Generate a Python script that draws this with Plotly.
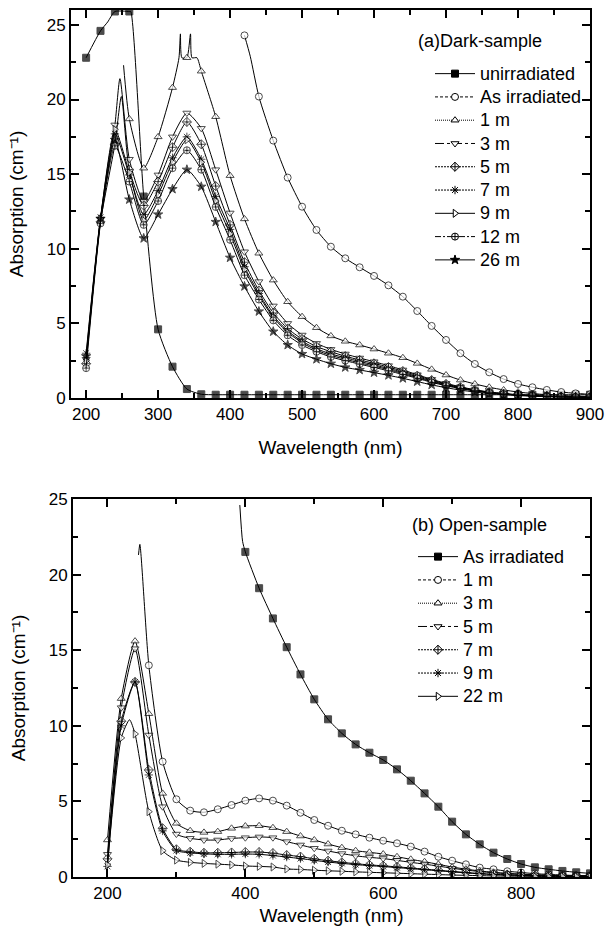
import plotly.graph_objects as go

# ---------------- data: (a) Dark-sample ----------------
wl_a = [200, 220, 240, 260, 280, 300, 320, 340, 360, 380, 400, 420, 440, 460, 480,
        500, 520, 540, 560, 580, 600, 620, 640, 660, 680, 700, 720, 740, 760, 780,
        800, 820, 840, 860, 880, 900]
N = None
a_unirr = [22.8, 24.6, 25.9, 25.9, 13.5, 4.6, 2.1, 0.6, 0.25, 0.22, 0.22, 0.22, 0.22, 0.22, 0.22,
           0.22, 0.22, 0.22, 0.22, 0.22, 0.22, 0.22, 0.22, 0.22, 0.22, 0.22, 0.22, 0.22, 0.22, 0.22,
           0.22, 0.22, 0.22, 0.22, 0.22, 0.22]
a_asirr = [N, N, N, N, N, N, N, N, N, N, N, 24.3, 20.2, 17.25, 14.77,
           12.82, 11.26, 10.14, 9.36, 8.76, 8.18, 7.55, 6.79, 5.83, 4.83, 3.89, 3.0, 2.28, 1.72, 1.27,
           0.94, 0.72, 0.54, 0.4, 0.31, 0.25]
a_1m = [N, N, N, 18.7, 15.4, 17.5, 20.8, 22.8, 21.9, 18.85, 14.9, 12.0, 9.7, 7.9, 6.45,
        5.45, 4.71, 4.16, 3.8, 3.55, 3.28, 3.0, 2.7, 2.32, 1.92, 1.54, 1.2, 0.94, 0.72, 0.54,
        0.4, 0.3, 0.22, 0.17, 0.13, 0.1]
a_3m = [2.6, 12.0, 18.3, 16.0, 13.2, 14.95, 17.5, 19.1, 18.07, 15.3, 12.4, 9.8, 7.8, 6.17, 5.0,
        4.22, 3.66, 3.26, 2.95, 2.68, 2.43, 2.17, 1.88, 1.56, 1.25, 0.98, 0.75, 0.55, 0.4, 0.3,
        0.22, 0.16, 0.12, 0.09, 0.07, 0.05]
a_5m = [2.3, 11.8, 17.0, 15.3, 12.9, 14.5, 16.8, 18.5, 17.0, 14.2, 11.6, 9.1, 7.2, 5.7, 4.65,
        3.95, 3.45, 3.1, 2.8, 2.55, 2.32, 2.07, 1.8, 1.5, 1.2, 0.94, 0.72, 0.53, 0.39, 0.29,
        0.21, 0.16, 0.12, 0.09, 0.07, 0.05]
a_7m = [3.0, 12.1, 17.7, 14.95, 12.3, 13.9, 16.1, 17.5, 16.0, 13.5, 11.3, 8.8, 7.0, 5.5, 4.5,
        3.8, 3.3, 2.95, 2.7, 2.45, 2.22, 1.98, 1.72, 1.43, 1.15, 0.9, 0.69, 0.51, 0.37, 0.28,
        0.2, 0.15, 0.11, 0.08, 0.06, 0.05]
a_9m = [2.5, 12.0, 18.0, 15.1, 11.9, 13.6, 15.8, 17.3, 15.8, 13.2, 11.0, 8.6, 6.85, 5.4, 4.4,
        3.7, 3.2, 2.85, 2.6, 2.35, 2.14, 1.9, 1.65, 1.37, 1.1, 0.86, 0.66, 0.49, 0.36, 0.27,
        0.2, 0.15, 0.11, 0.08, 0.06, 0.05]
a_12m = [2.0, 11.7, 16.9, 14.5, 11.6, 13.2, 15.4, 16.6, 15.3, 12.8, 10.6, 8.23, 6.6, 5.2, 4.2,
         3.55, 3.1, 2.75, 2.5, 2.27, 2.05, 1.82, 1.58, 1.32, 1.05, 0.82, 0.63, 0.47, 0.34, 0.26,
         0.19, 0.14, 0.1, 0.08, 0.06, 0.05]
a_26m = [2.8, 12.0, 17.3, 13.3, 10.7, 12.3, 14.0, 15.3, 14.16, 11.8, 9.4, 7.48, 5.8, 4.45, 3.55,
         2.95, 2.6, 2.3, 2.05, 1.88, 1.7, 1.52, 1.32, 1.1, 0.88, 0.69, 0.53, 0.4, 0.29, 0.22,
         0.16, 0.12, 0.09, 0.07, 0.05, 0.04]
# off-grid saturation / peak points (line only, no marker)
a_extra = {
    "unirradiated": ([230, 262], [25.2, 25.9]),
    "As irradiated": ([428], [22.9]),
    "1 m": ([252, 329, 331, 333, 345, 347, 354], [22.3, 22.8, 24.4, 22.8, 24.4, 22.8, 22.8]),
    "3 m": ([247], [21.4]),
    "5 m": ([249], [20.2]),
}
a_names = ["unirradiated", "As irradiated", "1 m", "3 m", "5 m", "7 m", "9 m", "12 m", "26 m"]
a_series = [a_unirr, a_asirr, a_1m, a_3m, a_5m, a_7m, a_9m, a_12m, a_26m]

# ---------------- data: (b) Open-sample ----------------
wl_b = wl_a
b_asirr = [N, N, N, N, N, N, N, N, N, N, 21.5, 19.1, 17.1, 15.2, 13.4,
           11.75, 10.43, 9.5, 8.77, 8.22, 7.74, 7.12, 6.37, 5.53, 4.65, 3.66, 2.82, 2.16, 1.61, 1.19,
           0.86, 0.64, 0.51, 0.4, 0.31, 0.24]
b_1m = [N, N, N, 14.0, 7.63, 5.14, 4.39, 4.28, 4.48, 4.76, 5.05, 5.2, 5.05, 4.72, 4.25,
        3.77, 3.39, 3.06, 2.82, 2.6, 2.4, 2.23, 2.01, 1.68, 1.34, 1.08, 0.84, 0.62, 0.51, 0.38,
        0.3, 0.22, 0.17, 0.13, 0.1, 0.08]
b_3m = [2.45, 11.8, 15.6, 10.8, 5.53, 3.55, 3.06, 2.95, 3.0, 3.22, 3.37, 3.39, 3.26, 3.0, 2.71,
        2.45, 2.18, 1.94, 1.74, 1.63, 1.52, 1.34, 1.17, 1.01, 0.84, 0.66, 0.52, 0.4, 0.31, 0.24,
        0.19, 0.15, 0.12, 0.1, 0.08, 0.07]
b_5m = [1.5, 11.2, 15.1, 9.39, 4.65, 2.84, 2.56, 2.45, 2.45, 2.55, 2.6, 2.65, 2.6, 2.34, 2.12,
        1.9, 1.72, 1.55, 1.4, 1.3, 1.22, 1.1, 0.97, 0.85, 0.72, 0.58, 0.46, 0.36, 0.28, 0.22,
        0.17, 0.13, 0.1, 0.08, 0.07, 0.06]
b_7m = [1.2, 10.3, 12.9, 7.08, 3.22, 1.83, 1.67, 1.6, 1.6, 1.62, 1.65, 1.65, 1.58, 1.45, 1.35,
        1.2, 1.08, 0.97, 0.88, 0.8, 0.74, 0.67, 0.6, 0.52, 0.45, 0.37, 0.3, 0.23, 0.18, 0.14,
        0.11, 0.09, 0.07, 0.06, 0.05, 0.04]
b_9m = [0.7, 10.0, 12.9, 6.75, 3.05, 1.75, 1.6, 1.53, 1.5, 1.5, 1.52, 1.5, 1.42, 1.32, 1.22,
        1.1, 0.99, 0.9, 0.82, 0.75, 0.69, 0.62, 0.55, 0.48, 0.41, 0.34, 0.27, 0.21, 0.16, 0.13,
        0.1, 0.08, 0.06, 0.05, 0.04, 0.04]
b_22m = [0.8, 9.2, 9.46, 4.32, 1.74, 1.12, 0.97, 0.9, 0.85, 0.8, 0.73, 0.7, 0.66, 0.53, 0.5,
         0.45, 0.41, 0.38, 0.34, 0.31, 0.28, 0.25, 0.22, 0.19, 0.16, 0.13, 0.11, 0.09, 0.07, 0.06,
         0.05, 0.04, 0.03, 0.03, 0.03, 0.03]
b_extra = {
    "As irradiated": ([392, 396], [24.6, 22.2]),
    "1 m": ([245, 247], [21.3, 22.0]),
    "22 m": ([232], [10.4]),
}
b_names = ["As irradiated", "1 m", "3 m", "5 m", "7 m", "9 m", "22 m"]
b_series = [b_asirr, b_1m, b_3m, b_5m, b_7m, b_9m, b_22m]

# ---------------- styles (symbol, fill, legend dash) ----------------
a_style = {
    "unirradiated": ("square", "black", "solid"),
    "As irradiated": ("circle", "white", "3px,2px"),
    "1 m": ("triangle-up", "white", "1px,1px"),
    "3 m": ("triangle-down", "white", "dashdot"),
    "5 m": ("diamond-cross", "white", "2px,1px"),
    "7 m": ("asterisk-open", "black", "2px,1px"),
    "9 m": ("triangle-right", "white", "solid"),
    "12 m": ("circle-cross", "white", "6px,2px,2px,2px"),
    "26 m": ("star", "black", "solid"),
}
b_style = {
    "As irradiated": ("square", "black", "solid"),
    "1 m": ("circle", "white", "3px,2px"),
    "3 m": ("triangle-up", "white", "1px,1px"),
    "5 m": ("triangle-down", "white", "dashdot"),
    "7 m": ("diamond-cross", "white", "2px,1px"),
    "9 m": ("asterisk-open", "black", "2px,1px"),
    "22 m": ("triangle-right", "white", "solid"),
}

FONT = "Liberation Sans, Arial, sans-serif"
fig = go.Figure()


def add_series(wl, vals, name, extra, style, xa, ya, legend):
    pts = [(w, v, True) for w, v in zip(wl, vals) if v is not None]
    if name in extra:
        pts += [(w, v, False) for w, v in zip(*extra[name])]
    pts.sort(key=lambda p: p[0])
    sym, fill, dash = style[name]
    mcolor = "black" if sym.endswith("open") else fill
    fig.add_trace(go.Scatter(
        x=[p[0] for p in pts], y=[p[1] for p in pts],
        name=name, showlegend=False,
        mode="lines+markers",
        line=dict(color="black", width=1, shape="spline", smoothing=0.6),
        marker=dict(symbol=sym, color=mcolor,
                    size=[7 if p[2] else 0 for p in pts],
                    line=dict(color="black", width=1)),
        xaxis=xa, yaxis=ya, cliponaxis=True,
    ))
    # legend entry (line style as in the legend of the reference)
    fig.add_trace(go.Scatter(
        x=[None], y=[None], name='<span style="font-size:18px">' + name + '</span>',
        mode="lines+markers",
        line=dict(color="black", width=1, dash=dash),
        marker=dict(symbol=sym, color=mcolor, size=7, line=dict(color="black", width=1)),
        xaxis=xa, yaxis=ya, legend=legend, showlegend=True,
    ))


for name, vals in zip(a_names, a_series):
    add_series(wl_a, vals, name, a_extra, a_style, "x", "y", "legend")
for name, vals in zip(b_names, b_series):
    add_series(wl_b, vals, name, b_extra, b_style, "x2", "y2", "legend2")

axis_common = dict(
    showline=True, linewidth=2, linecolor="black", mirror="allticks",
    ticks="inside", ticklen=8, tickwidth=2, tickcolor="black",
    showgrid=False, zeroline=False, automargin=False,
    tickfont=dict(family=FONT, size=17, color="black"),
    title_font=dict(family=FONT, size=19, color="black"),
)
minor_common = dict(ticks="inside", ticklen=5, tickwidth=1.5, tickcolor="black", showgrid=False)

L, R, T, B = 71, 18, 10, 51
PW, PH = 608 - L - R, 928 - T - B


def px_x(px):
    return (px - L) / PW


def px_y(py):
    return (928 - B - py) / PH


YTITLE = "Absorption (cm\u207b\u00b9)"

fig.update_layout(
    width=608, height=928,
    margin=dict(l=L, r=R, t=T, b=B, autoexpand=False),
    paper_bgcolor="white", plot_bgcolor="white",
    font=dict(family=FONT, color="black"),
    xaxis=dict(domain=[0, 1], range=[179, 900], tick0=200, dtick=100,
               minor=dict(dtick=50, **minor_common),
               title=dict(text="Wavelength (nm)", standoff=17), anchor="y", **axis_common),
    yaxis=dict(domain=[px_y(398), 1], range=[0, 26], tick0=0, dtick=5,
               minor=dict(dtick=2.5, **minor_common),
               title=dict(text=YTITLE, standoff=18), anchor="x", **axis_common),
    xaxis2=dict(domain=[px_x(73), 1], range=[150, 900], tick0=200, dtick=200,
                minor=dict(dtick=100, **minor_common),
                title=dict(text="Wavelength (nm)", standoff=6), anchor="y2", **axis_common),
    yaxis2=dict(domain=[0, px_y(499)], range=[0, 25], tick0=0, dtick=5,
                minor=dict(dtick=2.5, **minor_common),
                title=dict(text=YTITLE, standoff=18), anchor="x2", **axis_common),
    legend=dict(x=px_x(430), y=px_y(57), xanchor="left", yanchor="top", bgcolor="rgba(0,0,0,0)",
                itemwidth=40,
                font=dict(family=FONT, size=15.6, color="black")),
    legend2=dict(x=px_x(413), y=px_y(540), xanchor="left", yanchor="top", bgcolor="rgba(0,0,0,0)",
                 itemwidth=40,
                 font=dict(family=FONT, size=15.6, color="black")),
    annotations=[
        dict(text="(a)Dark-sample", xref="paper", yref="paper", x=px_x(416), y=px_y(41),
             xanchor="left", yanchor="middle", showarrow=False,
             font=dict(family=FONT, size=18, color="black")),
        dict(text="(b) Open-sample", xref="paper", yref="paper", x=px_x(410), y=px_y(525),
             xanchor="left", yanchor="middle", showarrow=False,
             font=dict(family=FONT, size=18, color="black")),
    ],
    showlegend=True,
)

fig.write_html("out.html", config={"displayModeBar": False},
               post_script="document.body.style.margin='0px';")
